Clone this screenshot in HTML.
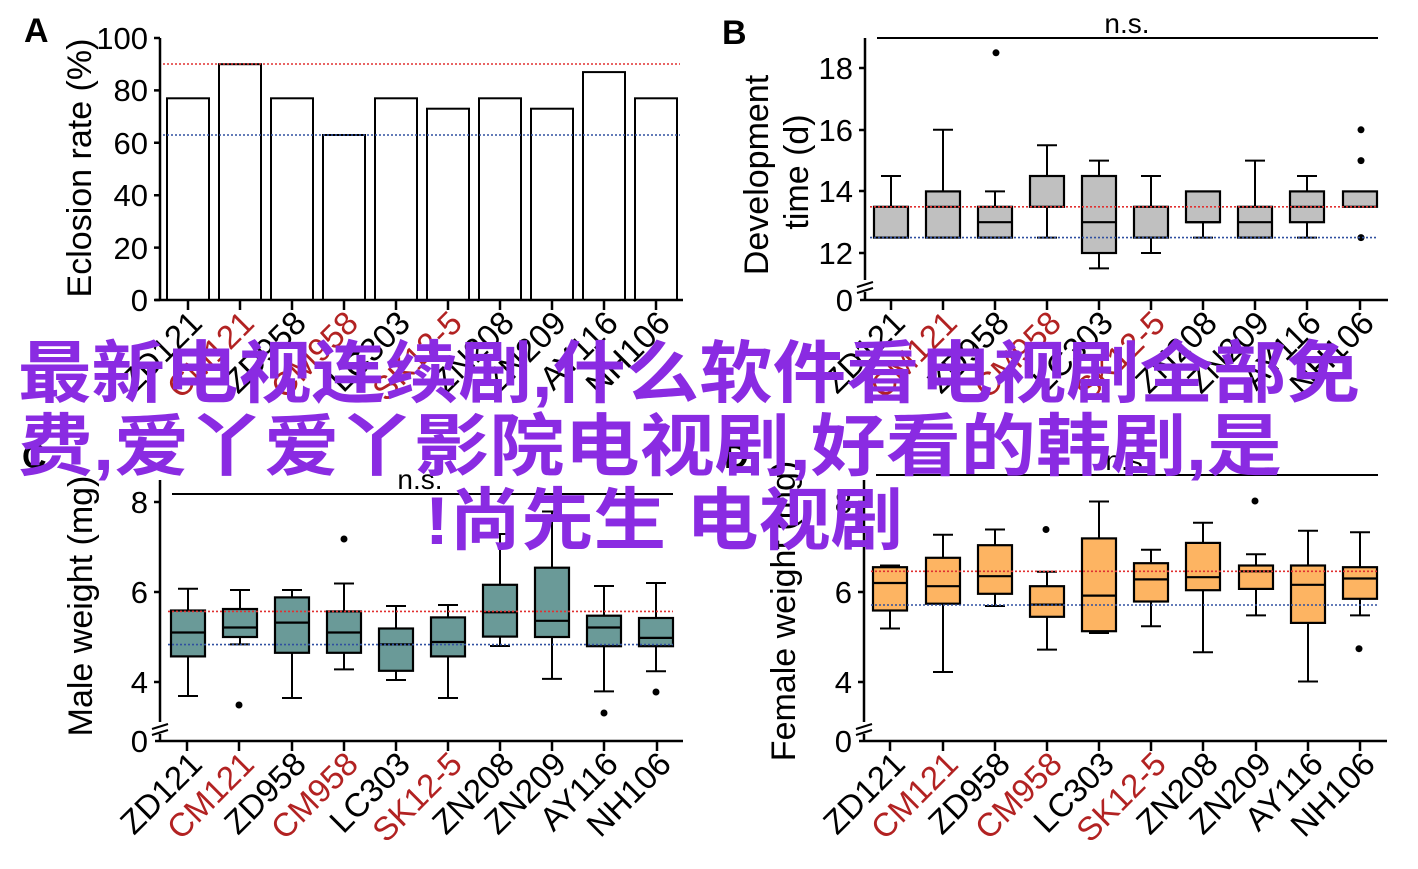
<!DOCTYPE html>
<html><head><meta charset="utf-8"><style>
html,body{margin:0;padding:0;background:#fff;}
svg{display:block;font-family:"Liberation Sans",Arial,sans-serif;}
</style></head><body>
<svg width="1418" height="869" viewBox="0 0 1418 869" xmlns="http://www.w3.org/2000/svg">
<g font-family="Liberation Sans, sans-serif">
<!-- ============ PANEL A ============ -->
<text x="24" y="42" font-size="34" font-weight="bold">A</text>
<g stroke="#000" stroke-width="2" fill="#fff">
<rect x="167" y="98.3" width="42" height="201.7"/>
<rect x="219" y="64.2" width="42" height="235.8"/>
<rect x="271" y="98.3" width="42" height="201.7"/>
<rect x="323" y="135" width="42" height="165"/>
<rect x="375" y="98.3" width="42" height="201.7"/>
<rect x="427" y="108.7" width="42" height="191.3"/>
<rect x="479" y="98.3" width="42" height="201.7"/>
<rect x="531" y="108.7" width="42" height="191.3"/>
<rect x="583" y="72.1" width="42" height="227.9"/>
<rect x="635" y="98.3" width="42" height="201.7"/>
</g>
<line x1="163" y1="64" x2="680" y2="64" stroke="#e03030" stroke-width="1.6" stroke-dasharray="2,2"/>
<line x1="163" y1="135" x2="680" y2="135" stroke="#3050a0" stroke-width="1.6" stroke-dasharray="2,2"/>
<g stroke="#000" stroke-width="2.5" fill="none">
<path d="M160 38 V300 M155 300 H683"/>
<path d="M154 38H160M154 90.4H160M154 142.8H160M154 195.2H160M154 247.6H160M154 300H160"/>
<path d="M188 300v10M240 300v10M292 300v10M344 300v10M396 300v10M448 300v10M500 300v10M552 300v10M604 300v10M656 300v10"/>
</g>
<g font-size="31" text-anchor="end">
<text x="148" y="49">100</text><text x="148" y="101">80</text><text x="148" y="154">60</text>
<text x="148" y="206">40</text><text x="148" y="259">20</text><text x="148" y="311">0</text>
</g>
<text transform="translate(91,168) rotate(-90)" font-size="34" text-anchor="middle">Eclosion rate (%)</text>
<g font-size="33" text-anchor="end">
<text transform="translate(204,325) rotate(-45)">ZD121</text>
<text transform="translate(256,325) rotate(-45)" fill="#b22222">CM121</text>
<text transform="translate(308,325) rotate(-45)">ZD958</text>
<text transform="translate(360,325) rotate(-45)" fill="#b22222">CM958</text>
<text transform="translate(412,325) rotate(-45)">LC303</text>
<text transform="translate(464,325) rotate(-45)" fill="#b22222">SK12-5</text>
<text transform="translate(516,325) rotate(-45)">ZN208</text>
<text transform="translate(568,325) rotate(-45)">ZN209</text>
<text transform="translate(620,325) rotate(-45)">AY116</text>
<text transform="translate(672,325) rotate(-45)">NH106</text>
</g>

<!-- ============ PANEL B ============ -->
<text x="722" y="44" font-size="34" font-weight="bold">B</text>
<line x1="877" y1="38" x2="1378" y2="38" stroke="#000" stroke-width="2"/>
<text x="1127" y="33" font-size="28" text-anchor="middle">n.s.</text>
<g stroke="#000" stroke-width="2" fill="none">
<path d="M891 237.6V176M881 176H901"/>
<path d="M943 237.6V129.8M933 129.8H953"/>
<path d="M995 237.6V191.4M985 191.4H1005"/>
<path d="M1047 237.6V145.2M1037 145.2H1057M1037 237.6H1057"/>
<path d="M1099 268.4V160.6M1089 160.6H1109M1089 268.4H1109"/>
<path d="M1151 253V176M1141 176H1161M1141 253H1161"/>
<path d="M1203 237.6V191.4M1193 237.6H1213"/>
<path d="M1255 237.6V160.6M1245 160.6H1265"/>
<path d="M1307 237.6V176M1297 176H1317M1297 237.6H1317"/>
</g>
<g stroke="#000" stroke-width="2.2" fill="#c0c0c0">
<rect x="874" y="206.8" width="34" height="30.8"/>
<rect x="926" y="191.4" width="34" height="46.2"/>
<rect x="978" y="206.8" width="34" height="30.8"/>
<rect x="1030" y="176" width="34" height="30.8"/>
<rect x="1082" y="176" width="34" height="77"/>
<rect x="1134" y="206.8" width="34" height="30.8"/>
<rect x="1186" y="191.4" width="34" height="30.8"/>
<rect x="1238" y="206.8" width="34" height="30.8"/>
<rect x="1290" y="191.4" width="34" height="30.8"/>
<rect x="1343" y="191.4" width="34" height="15.4"/>
</g>
<g stroke="#000" stroke-width="2.2">
<path d="M978 222.2H1012M1082 222.2H1116M1186 222.2H1220M1238 222.2H1272M1290 206.8H1324M926 206.8H960"/>
</g>
<g fill="#000">
<circle cx="996" cy="52.8" r="3.5"/><circle cx="1361" cy="129.8" r="3.5"/><circle cx="1361" cy="160.6" r="3.5"/><circle cx="1361" cy="237.6" r="3.5"/>
</g>
<line x1="870" y1="206.8" x2="1378" y2="206.8" stroke="#e03030" stroke-width="1.6" stroke-dasharray="2,2"/>
<line x1="870" y1="237.6" x2="1378" y2="237.6" stroke="#3050a0" stroke-width="1.6" stroke-dasharray="2,2"/>
<g stroke="#000" stroke-width="2.5" fill="none">
<path d="M865 38V280M865 292V300M860 300H1388"/>
<path d="M859 68H865M859 130H865M859 191H865M859 253H865"/>
<path d="M857 287L873 282M857 293L873 288" stroke-width="2"/>
<path d="M891 300v10M943 300v10M995 300v10M1047 300v10M1099 300v10M1151 300v10M1203 300v10M1255 300v10M1307 300v10M1360 300v10"/>
</g>
<g font-size="31" text-anchor="end">
<text x="853" y="79">18</text><text x="853" y="141">16</text><text x="853" y="202">14</text><text x="853" y="264">12</text><text x="853" y="311">0</text>
</g>
<text transform="translate(768,175) rotate(-90)" font-size="34" text-anchor="middle">Development</text>
<text transform="translate(808,172) rotate(-90)" font-size="34" text-anchor="middle">time (d)</text>
<g font-size="33" text-anchor="end">
<text transform="translate(907,325) rotate(-45)">ZD121</text>
<text transform="translate(959,325) rotate(-45)" fill="#b22222">CM121</text>
<text transform="translate(1011,325) rotate(-45)">ZD958</text>
<text transform="translate(1063,325) rotate(-45)" fill="#b22222">CM958</text>
<text transform="translate(1115,325) rotate(-45)">LC303</text>
<text transform="translate(1167,325) rotate(-45)" fill="#b22222">SK12-5</text>
<text transform="translate(1219,325) rotate(-45)">ZN208</text>
<text transform="translate(1271,325) rotate(-45)">ZN209</text>
<text transform="translate(1323,325) rotate(-45)">AY116</text>
<text transform="translate(1376,325) rotate(-45)">NH106</text>
</g>

<!-- ============ PANEL C ============ -->
<text x="22" y="468" font-size="34" font-weight="bold">C</text>
<line x1="172" y1="494" x2="673" y2="494" stroke="#000" stroke-width="2"/>
<text x="420" y="489" font-size="28" text-anchor="middle">n.s.</text>
<g stroke="#000" stroke-width="2" fill="none">
<path d="M188 588.8V696M178 588.8H198M178 696H198"/>
<path d="M240 590V644.4M230 590H250M230 644.4H250"/>
<path d="M292 590V698M282 590H302M282 698H302"/>
<path d="M344 583.5V669.4M334 583.5H354M334 669.4H354"/>
<path d="M396 606V680M386 606H406M386 680H406"/>
<path d="M448 605V698M438 605H458M438 698H458"/>
<path d="M500 534V646M490 534H510M490 646H510"/>
<path d="M552 511.5V678.9M542 511.5H562M542 678.9H562"/>
<path d="M604 586V691.4M594 586H614M594 691.4H614"/>
<path d="M656 583V671.2M646 583H666M646 671.2H666"/>
</g>
<g stroke="#000" stroke-width="2.2" fill="#6a9a98">
<rect x="171" y="610.5" width="34" height="45.9"/>
<rect x="223" y="609" width="34" height="28"/>
<rect x="275" y="597.4" width="34" height="55.4"/>
<rect x="327" y="611.4" width="34" height="41.4"/>
<rect x="379" y="628.5" width="34" height="42.3"/>
<rect x="431" y="617.4" width="34" height="39"/>
<rect x="483" y="584.8" width="34" height="51.8"/>
<rect x="535" y="567.7" width="34" height="69.3"/>
<rect x="587" y="615.7" width="34" height="30.5"/>
<rect x="639" y="618" width="34" height="28.2"/>
</g>
<g stroke="#000" stroke-width="2.2">
<path d="M171 632.5H205M223 627.5H257M275 622.6H309M327 632.5H361M379 644.4H413M431 642H465M483 612.3H517M535 620.8H569M587 627.5H621M639 637.9H673"/>
</g>
<g fill="#000">
<circle cx="239" cy="705" r="3.5"/><circle cx="344" cy="539" r="3.5"/><circle cx="604" cy="713" r="3.5"/><circle cx="656" cy="692" r="3.5"/>
</g>
<line x1="168" y1="611.4" x2="673" y2="611.4" stroke="#e03030" stroke-width="1.6" stroke-dasharray="2,2"/>
<line x1="168" y1="644.6" x2="673" y2="644.6" stroke="#3050a0" stroke-width="1.6" stroke-dasharray="2,2"/>
<g stroke="#000" stroke-width="2.5" fill="none">
<path d="M160 480V722M160 734V741M155 741H683"/>
<path d="M154 502H160M154 592H160M154 682H160"/>
<path d="M152 729L168 724M152 735L168 730" stroke-width="2"/>
<path d="M187 741v10M239 741v10M292 741v10M344 741v10M396 741v10M448 741v10M500 741v10M552 741v10M604 741v10M657 741v10"/>
</g>
<g font-size="31" text-anchor="end">
<text x="148" y="513">8</text><text x="148" y="603">6</text><text x="148" y="693">4</text><text x="148" y="752">0</text>
</g>
<text transform="translate(92,606) rotate(-90)" font-size="34" text-anchor="middle">Male weight (mg)</text>
<g font-size="33" text-anchor="end">
<text transform="translate(204,766) rotate(-45)">ZD121</text>
<text transform="translate(256,766) rotate(-45)" fill="#b22222">CM121</text>
<text transform="translate(308,766) rotate(-45)">ZD958</text>
<text transform="translate(360,766) rotate(-45)" fill="#b22222">CM958</text>
<text transform="translate(412,766) rotate(-45)">LC303</text>
<text transform="translate(464,766) rotate(-45)" fill="#b22222">SK12-5</text>
<text transform="translate(516,766) rotate(-45)">ZN208</text>
<text transform="translate(568,766) rotate(-45)">ZN209</text>
<text transform="translate(620,766) rotate(-45)">AY116</text>
<text transform="translate(673,766) rotate(-45)">NH106</text>
</g>

<!-- ============ PANEL D ============ -->
<text x="724" y="468" font-size="34" font-weight="bold">D</text>
<line x1="876" y1="475" x2="1378" y2="475" stroke="#000" stroke-width="2"/>
<text x="1128" y="470" font-size="28" text-anchor="middle">n.s.</text>
<g stroke="#000" stroke-width="2" fill="none">
<path d="M890 565.5V628.5M880 565.5H900M880 628.5H900"/>
<path d="M943 534.8V672M933 534.8H953M933 672H953"/>
<path d="M995 529.5V606M985 529.5H1005M985 606H1005"/>
<path d="M1047 571.8V649.6M1037 571.8H1057M1037 649.6H1057"/>
<path d="M1099 501.5V633M1089 501.5H1109M1089 633H1109"/>
<path d="M1151 549.7V626.2M1141 549.7H1161M1141 626.2H1161"/>
<path d="M1203 522.7V652.3M1193 522.7H1213M1193 652.3H1213"/>
<path d="M1256 554.2V615.4M1246 554.2H1266M1246 615.4H1266"/>
<path d="M1308 530.8V681.5M1298 530.8H1318M1298 681.5H1318"/>
<path d="M1360 532.2V615.4M1350 532.2H1370M1350 615.4H1370"/>
</g>
<g stroke="#000" stroke-width="2.2" fill="#fdb462">
<rect x="873" y="567.2" width="34" height="43.3"/>
<rect x="926" y="557.8" width="34" height="45.9"/>
<rect x="978" y="545.2" width="34" height="48.6"/>
<rect x="1030" y="586.2" width="34" height="30.6"/>
<rect x="1082" y="538.4" width="34" height="92.8"/>
<rect x="1134" y="563.2" width="34" height="38.3"/>
<rect x="1186" y="542.9" width="34" height="47.3"/>
<rect x="1239" y="565.5" width="34" height="23.4"/>
<rect x="1291" y="565.5" width="34" height="57.4"/>
<rect x="1343" y="567.2" width="34" height="31.6"/>
</g>
<g stroke="#000" stroke-width="2.2">
<path d="M873 583H907M926 586.2H960M978 576.2H1012M1030 604.6H1064M1082 595.6H1116M1134 579.4H1168M1186 577.2H1220M1239 571.3H1273M1291 584.8H1325M1343 578.5H1377"/>
</g>
<g fill="#000">
<circle cx="1046" cy="529.5" r="3.5"/><circle cx="1255" cy="501" r="3.5"/><circle cx="1359" cy="648.7" r="3.5"/>
</g>
<line x1="871" y1="571.3" x2="1378" y2="571.3" stroke="#e03030" stroke-width="1.6" stroke-dasharray="2,2"/>
<line x1="871" y1="605" x2="1378" y2="605" stroke="#3050a0" stroke-width="1.6" stroke-dasharray="2,2"/>
<g stroke="#000" stroke-width="2.5" fill="none">
<path d="M864 480V722M864 734V741M859 741H1387"/>
<path d="M858 502H864M858 592H864M858 682H864"/>
<path d="M856 729L872 724M856 735L872 730" stroke-width="2"/>
<path d="M890 741v10M943 741v10M995 741v10M1047 741v10M1099 741v10M1151 741v10M1203 741v10M1256 741v10M1308 741v10M1360 741v10"/>
</g>
<g font-size="31" text-anchor="end">
<text x="852" y="513">8</text><text x="852" y="603">6</text><text x="852" y="693">4</text><text x="852" y="752">0</text>
</g>
<text transform="translate(795,611) rotate(-90)" font-size="34" text-anchor="middle">Female weight (mg)</text>
<g font-size="33" text-anchor="end">
<text transform="translate(907,766) rotate(-45)">ZD121</text>
<text transform="translate(960,766) rotate(-45)" fill="#b22222">CM121</text>
<text transform="translate(1012,766) rotate(-45)">ZD958</text>
<text transform="translate(1064,766) rotate(-45)" fill="#b22222">CM958</text>
<text transform="translate(1116,766) rotate(-45)">LC303</text>
<text transform="translate(1168,766) rotate(-45)" fill="#b22222">SK12-5</text>
<text transform="translate(1220,766) rotate(-45)">ZN208</text>
<text transform="translate(1273,766) rotate(-45)">ZN209</text>
<text transform="translate(1325,766) rotate(-45)">AY116</text>
<text transform="translate(1377,766) rotate(-45)">NH106</text>
</g>
</g>

<!-- ============ OVERLAY TEXT ============ -->
<g font-family="Liberation Sans, Noto Sans CJK SC, sans-serif" font-weight="bold" font-size="68" fill="#8a2be2">
<text x="18" y="397" textLength="1342" lengthAdjust="spacingAndGlyphs">最新电视连续剧,什么软件看电视剧全部免</text>
<text x="18" y="470" textLength="1264" lengthAdjust="spacingAndGlyphs">费,爱丫爱丫影院电视剧,好看的韩剧,是</text>
<text x="425" y="544" textLength="478" lengthAdjust="spacingAndGlyphs">!尚先生 电视剧</text>
</g>
</svg>
</body></html>
